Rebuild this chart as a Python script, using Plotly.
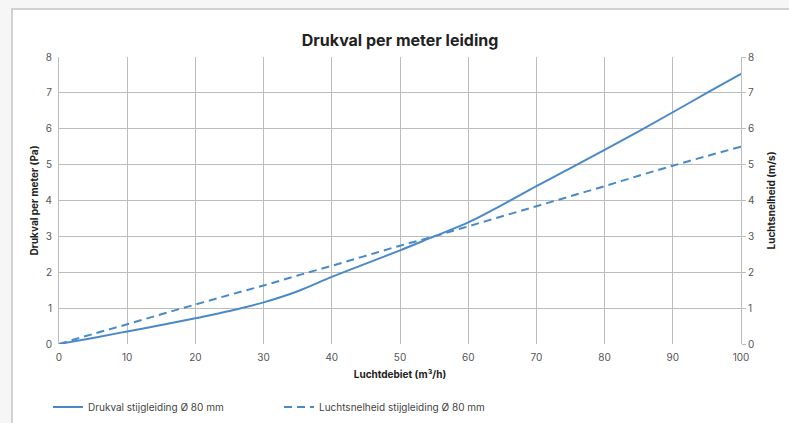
import plotly.graph_objects as go

debiet = [0, 5, 10, 15, 20, 25, 30, 35, 40, 45, 50, 55, 60, 65, 70, 75, 80, 85, 90, 95, 100]
drukval = [0, 0.17, 0.35, 0.53, 0.72, 0.92, 1.16, 1.47, 1.87, 2.24, 2.61, 3.0, 3.39, 3.88, 4.4, 4.9, 5.41, 5.93, 6.46, 7.0, 7.53]
snelheid = [0, 0.28, 0.55, 0.83, 1.1, 1.37, 1.63, 1.91, 2.18, 2.46, 2.74, 3.0, 3.28, 3.56, 3.84, 4.12, 4.4, 4.69, 4.97, 5.24, 5.5]

title = "Drukval per meter leiding"
x_title = "Luchtdebiet (m³/h)"
y_title = "Drukval per meter (Pa)"
y2_title = "Luchtsnelheid (m/s)"
name1 = "Drukval stijgleiding Ø 80 mm"
name2 = "Luchtsnelheid stijgleiding Ø 80 mm"

blue = "#4a89c9"
grid = "#bdbdbd"
font = "Inter"

W, H = 789, 423
L, R, T, B = 59, 48, 57, 79
pw, ph = W - L - R, H - T - B

def px_x(p):
    return (p - L) / pw

def px_y(p):
    return (H - B - p) / ph

fig = go.Figure()
fig.add_trace(go.Scatter(x=debiet, y=drukval, name=name1, mode="lines",
                         line=dict(color=blue, width=2, shape="spline")))
fig.add_trace(go.Scatter(x=debiet, y=snelheid, name=name2, mode="lines", yaxis="y2",
                         line=dict(color=blue, width=2, dash="8px,5px", shape="spline")))

fig.add_shape(type="rect", xref="paper", yref="paper", layer="below",
              x0=px_x(12), x1=px_x(805), y0=px_y(440), y1=px_y(9),
              fillcolor="white", line=dict(color="#c4c4c4", width=1.5))

fig.update_layout(
    width=W, height=H,
    margin=dict(l=L, r=R, t=T, b=B, pad=0, autoexpand=False),
    paper_bgcolor="#f6f6f6", plot_bgcolor="white",
    font=dict(family=font, size=10, color="#555555"),
    title=dict(text=f"<b>{title}</b>", x=0.5, xref="paper", xanchor="center",
               y=1 - 40 / H, yref="container", yanchor="middle",
               font=dict(family=font, size=16, color="#222222")),
    xaxis=dict(range=[0, 100], dtick=10, showgrid=True, gridcolor=grid, gridwidth=1,
               zeroline=False, showline=False, ticks="", ticklabelstandoff=6,
               automargin=False,
               title=dict(text=f"<b>{x_title}</b>", standoff=8,
                          font=dict(family=font, size=10, color="#222222"))),
    yaxis=dict(range=[0, 8], dtick=1, showgrid=True, gridcolor=grid, gridwidth=1,
               zeroline=False, showline=True, linecolor=grid, mirror=False, ticks="",
               ticklabelstandoff=4, automargin=False,
               title=dict(text=f"<b>{y_title}</b>", standoff=5,
                          font=dict(family=font, size=10, color="#222222"))),
    yaxis2=dict(range=[0, 8], dtick=1, overlaying="y", side="right", showgrid=False,
                zeroline=False, showline=True, linecolor=grid, ticks="outside",
                ticklen=4, tickcolor=grid, automargin=False,
                title=dict(text=f"<b>{y2_title}</b>", standoff=14,
                           font=dict(family=font, size=10, color="#222222"))),
    showlegend=True,
    legend=dict(orientation="h", x=px_x(48), xanchor="left",
                y=px_y(407), yanchor="middle",
                entrywidth=186, entrywidthmode="pixels",
                font=dict(family=font, size=10, color="#444444"),
                bgcolor="rgba(0,0,0,0)"),
)

fig.write_html("out.html", config={"displayModeBar": False},
               post_script="document.body.style.margin='0';document.body.style.background='#f6f6f6';")
